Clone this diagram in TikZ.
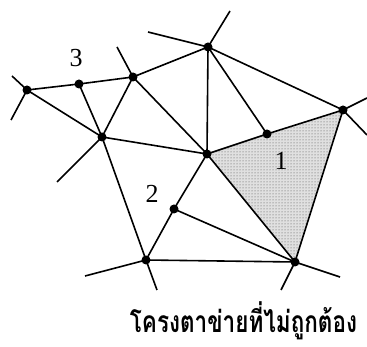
\documentclass[tikz,border=0pt]{standalone}
\usepackage{fontspec}
\setmainfont{Liberation Serif}
\newfontfamily\thaifont[Script=Thai]{Loma}
\usepackage{tikz}
\usetikzlibrary{patterns}

\begin{document}
\begin{tikzpicture}[
    x=1pt, y=-1pt,
    dot/.style={circle, fill=black, inner sep=0pt, minimum size=9pt},
    edge/.style={line width=1.6pt},
    lbl/.style={font=\fontsize{26}{28}\selectfont}
]
\useasboundingbox (0,0) rectangle (367,347);
% mesh points
\coordinate (A) at (27,90);
\coordinate (B) at (79,84);
\coordinate (C) at (133,77);
\coordinate (D) at (208,47);
\coordinate (E) at (343,110);
\coordinate (F) at (267,134);
\coordinate (G) at (207,154);
\coordinate (H) at (102,137);
\coordinate (I) at (174,209);
\coordinate (J) at (146,260);
\coordinate (K) at (295,262);
% free ends
\coordinate (a1) at (12,76);
\coordinate (a2) at (11,120);
\coordinate (c1) at (117,47);
\coordinate (d1) at (148,32);
\coordinate (d2) at (230,11);
\coordinate (e1) at (367,98);
\coordinate (e2) at (367,135);
\coordinate (h1) at (57,182);
\coordinate (j1) at (85,276);
\coordinate (j2) at (157,290);
\coordinate (k1) at (281,290);
\coordinate (k2) at (340,277);

% shaded triangle
\fill[black!12] (G) -- (E) -- (K) -- cycle;
\fill[pattern=dots, pattern color=black!70] (G) -- (E) -- (K) -- cycle;

\draw[edge] (A) -- (B) -- (C) -- (D);
\draw[edge] (A) -- (H) (B) -- (H) (C) -- (H);
\draw[edge] (H) -- (G) (C) -- (G) (D) -- (G);
\draw[edge] (D) -- (F) (D) -- (E);
\draw[edge] (G) -- (F) -- (E) -- (K) -- (G);
\draw[edge] (H) -- (J) -- (I) -- (G) (I) -- (K) (J) -- (K);
\draw[edge] (A) -- (a1) (A) -- (a2) (C) -- (c1) (D) -- (d1) (D) -- (d2)
    (E) -- (e1) (E) -- (e2) (H) -- (h1) (J) -- (j1) (J) -- (j2)
    (K) -- (k1) (K) -- (k2);

\foreach \p in {A,B,C,D,E,F,G,H,I,J,K}
    \node[dot] (n\p) at (\p) {};

\node[lbl] (l3) at (76,58) {3};
\node[lbl] (l2) at (152,194) {2};
\node[lbl] (l1) at (281,161) {1};
\node[anchor=base, inner sep=0pt] (cap) at (243.5,333)
    {\scalebox{0.75}[1]{\thaifont\bfseries\fontsize{30}{32}\selectfont โครงตาข่ายที่ไม่ถูกต้อง}};
\end{tikzpicture}
\end{document}
